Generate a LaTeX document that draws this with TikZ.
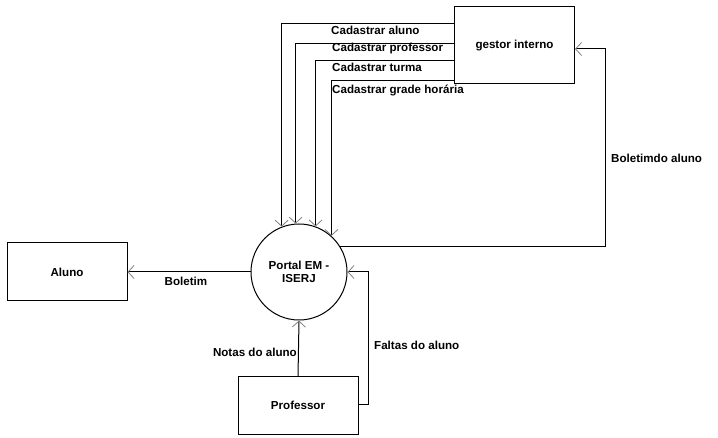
\documentclass[tikz,border=0pt]{standalone}
\usepackage{fontspec}
\setmainfont{Liberation Sans}
\usetikzlibrary{arrows.meta}
\begin{document}
\begin{tikzpicture}[x=1pt,y=-1pt,
  every node/.style={font=\fontsize{11.6}{13}\selectfont\bfseries},
  box/.style={draw=black,line width=1pt,rectangle,inner sep=0pt},
  flow/.style={draw=black,line width=1pt,-{Straight Barb[length=6pt,width=13pt,line width=0.8pt,color=gray]}},
  lbl/.style={inner sep=0pt}]
\useasboundingbox (0,0) rectangle (718,438);
\node[box,minimum width=120pt,minimum height=77pt] (gestor) at (514.5,45.5) {gestor interno};
\node[box,minimum width=120pt,minimum height=58pt] (aluno) at (67,272) {Aluno};
\node[box,minimum width=120pt,minimum height=57pt] (prof) at (298,405.5) {Professor};
\node[draw=black,line width=1pt,circle,minimum size=96pt,inner sep=0pt,align=center] (portal) at (299,272) {Portal EM -\\ISERJ};

\draw[flow] (gestor.west |- 0,24) -| (portal.111);
\draw[flow] (gestor.west |- 0,44) -| (portal.94);
\draw[flow] (gestor.west |- 0,61) -| (portal.70);
\draw[flow] (gestor.west |- 0,81) -| (portal.48);

\coordinate (bd) at (605,49);
\draw[flow] (portal.32) -| (bd) -- (gestor.east |- bd);
\draw[flow] (portal.west) -- (aluno.east);
\draw[flow] (prof.north) -- (portal.south);
\coordinate (fa) at (368,272);
\draw[flow] (prof.east |- 0,405) -| (fa) -- (portal.east);

\node[lbl,anchor=west] (l1) at (331,30) {Cadastrar aluno};
\node[lbl,anchor=west] (l2) at (332,49) {Cadastrar professor};
\node[lbl,anchor=west] (l3) at (332,67) {Cadastrar turma};
\node[lbl,anchor=west] (l4) at (332,90) {Cadastrar grade horária};
\node[lbl,anchor=west] (l5) at (611,158) {Boletimdo aluno};
\node[lbl] (l6) at (186,281) {Boletim};
\node[lbl,anchor=east] (l7) at (297,352) {Notas do aluno};
\node[lbl,anchor=west] (l8) at (374,345) {Faltas do aluno};
\end{tikzpicture}
\end{document}
